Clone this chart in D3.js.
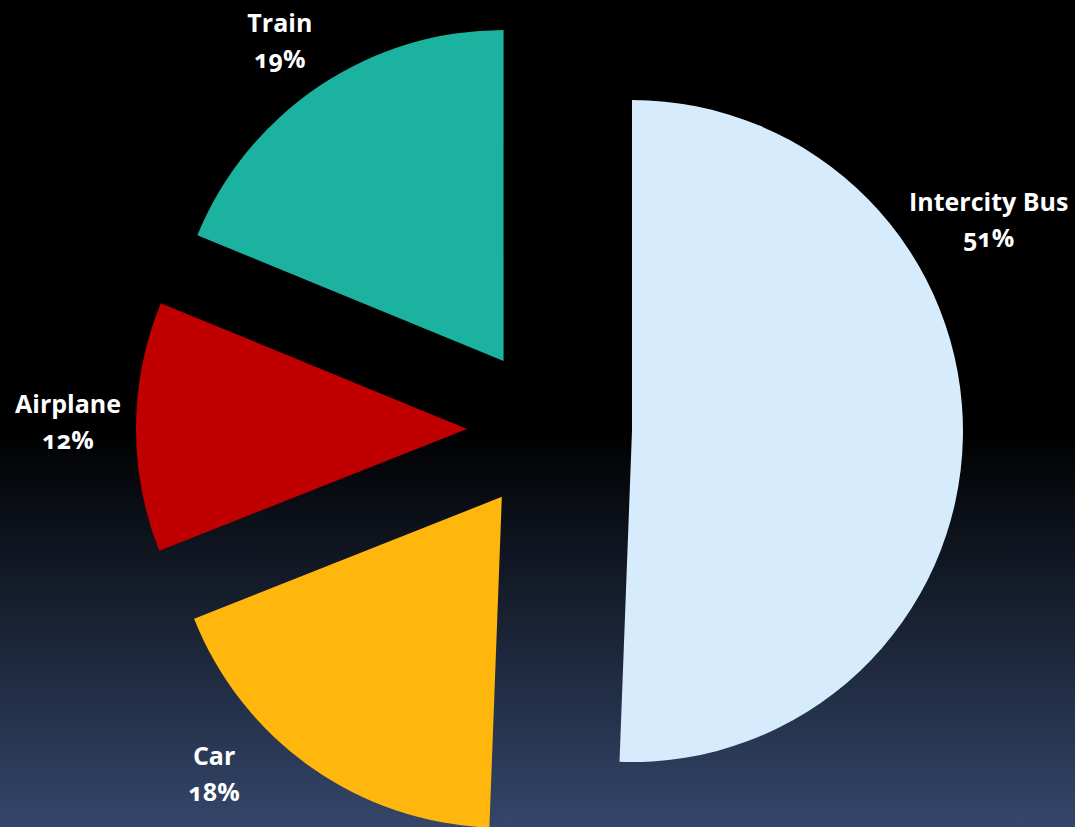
<!DOCTYPE html>
<html>
<head>
<meta charset="utf-8">
<script src="https://cdn.jsdelivr.net/npm/d3@7"></script>
<style>
  html, body { margin: 0; padding: 0; background: #000; overflow: hidden; }
  svg { display: block; }
  text { font-family: "Open Sans", "Lato", sans-serif; font-weight: 700; font-feature-settings: "onum" 1; }
</style>
</head>
<body>
<svg id="chart" width="1075" height="827"></svg>
<script>
// ---- data ----
const categories = ["Intercity Bus", "Car", "Airplane", "Train"];
const values = [50.6, 18.4, 12.2, 18.8];
const colors = ["#d6ebfc", "#ffb60d", "#c00000", "#1bb3a0"];

// ---- layout (label polar placement relative to each exploded slice) ----
const labelAngleDeg = [59.5, 226, 270.9, 325];
const labelRadius = [414, 400, 399, 390];

const W = 1075, H = 827;
const cx = 549.5, cy = 429.5, R = 331, explode = 82.5;

const svg = d3.select("#chart");
const defs = svg.append("defs");
const grad = defs.append("linearGradient").attr("id", "bg")
  .attr("x1", 0).attr("y1", 0).attr("x2", 0).attr("y2", 1);
grad.append("stop").attr("offset", "0%").attr("stop-color", "#000000");
grad.append("stop").attr("offset", "52%").attr("stop-color", "#000000");
grad.append("stop").attr("offset", "100%").attr("stop-color", "#34466a");
svg.append("rect").attr("width", W).attr("height", H).attr("fill", "url(#bg)");

const data = categories.map((c, i) => ({ name: c, value: values[i], color: colors[i], i }));
const pie = d3.pie().value(d => d.value).sort(null);
const arcs = pie(data);
const arc = d3.arc().innerRadius(0).outerRadius(R);

const g = svg.append("g").attr("transform", `translate(${cx},${cy})`);

arcs.forEach((a, i) => {
  const mid = (a.startAngle + a.endAngle) / 2;
  const ox = Math.sin(mid) * explode, oy = -Math.cos(mid) * explode;
  const sg = g.append("g").attr("transform", `translate(${ox},${oy})`);
  sg.append("path").attr("d", arc(a)).attr("fill", a.data.color);

  const la = labelAngleDeg[i] * Math.PI / 180;
  const lx = Math.sin(la) * labelRadius[i], ly = -Math.cos(la) * labelRadius[i];
  const t = sg.append("text")
    .attr("x", lx).attr("y", ly)
    .attr("text-anchor", "middle")
    .attr("fill", "#ffffff")
    .attr("font-size", 25);
  t.append("tspan").attr("x", lx).attr("dy", "-0.4em").text(a.data.name);
  t.append("tspan").attr("x", lx).attr("dy", "1.45em").text(Math.round(a.data.value) + "%");
});
</script>
</body>
</html>
